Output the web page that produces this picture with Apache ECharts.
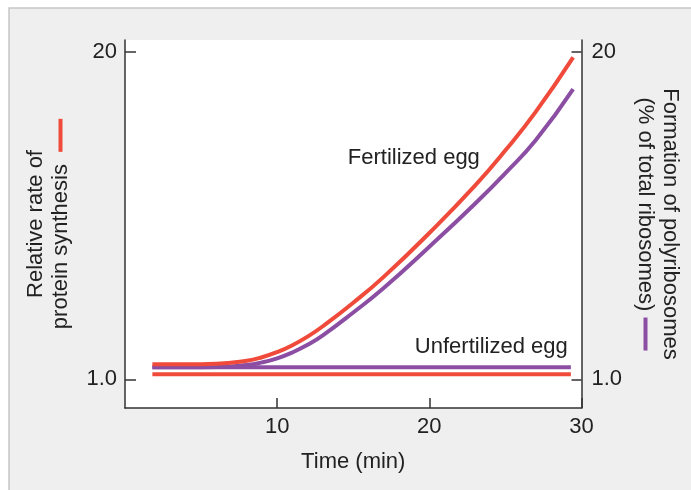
<!DOCTYPE html>
<html>
<head>
<meta charset="utf-8">
<script src="https://cdn.jsdelivr.net/npm/echarts@6/dist/echarts.min.js"></script>
<style>
  html, body { margin: 0; padding: 0; background: #fff; }
  #echarts_container { width: 691px; height: 490px; }
</style>
</head>
<body>
<div id="echarts_container"></div>
<script>
var chartDom = document.getElementById('echarts_container');
var myChart = echarts.init(chartDom);
var option;

// time points (min)
let timeCurve = [1.8, 4, 6, 8, 9, 10, 11, 12, 13, 15, 17, 20, 23, 25, 27, 29.45]
// fertilized egg: protein synthesis (red) and polyribosomes (purple)
let proteinFert = [1.87, 1.87, 1.9, 2.08, 2.28, 2.58, 2.98, 3.48, 4.08, 5.45, 6.95, 9.5, 12.25, 14.3, 16.55, 19.7]
let polyFert = [1.70, 1.70, 1.71, 1.83, 1.98, 2.22, 2.56, 3.0, 3.55, 4.88, 6.3, 8.7, 11.2, 12.98, 14.9, 17.85]
// unfertilized egg: flat lines
let timeFlat = [1.8, 29.3]
let proteinUnfert = [1.29, 1.29]
let polyUnfert = [1.70, 1.70]

let yTicks = [1, 20]
let xTicks = [10, 20, 30]

// annotation labels and where they sit (time, value)
let noteText = ['Fertilized egg', 'Unfertilized egg']
let notePos = [[18.98, 13.84], [24.07, 2.88]]

const RED = '#ef4a3a'
const PURPLE = '#8b4ea3'
const FONT = "'Liberation Sans', Arial, sans-serif"

const pairs = (xs, ys) => xs.map((x, i) => [x, ys[i]])

option = {
    animation: false,
    textStyle: { fontFamily: FONT },
    graphic: [{
        type: 'rect',
        z: -10,
        shape: { x: 9, y: 8, width: 700, height: 500 },
        style: { fill: '#efefef', stroke: '#c6c6c6', lineWidth: 1.5 }
    }],
    grid: {
        left: 125, right: 106, top: 40, bottom: 82,
        show: true, backgroundColor: '#ffffff', borderWidth: 0
    },
    xAxis: {
        type: 'value', min: 0, max: 30,
        name: 'Time (min)', nameLocation: 'middle', nameGap: 43,
        nameTextStyle: { fontSize: 22, color: '#222', fontFamily: FONT },
        axisLine: { onZero: false, lineStyle: { color: '#333', width: 1.5 } },
        axisTick: { inside: true, length: 10, customValues: xTicks, lineStyle: { color: '#333', width: 1.5 } },
        axisLabel: { customValues: xTicks, fontSize: 22, color: '#222', margin: 8, fontFamily: FONT },
        splitLine: { show: false }
    },
    yAxis: [{
        type: 'value', min: -0.668, max: 20.71, position: 'left',
        name: 'Relative rate of\nprotein synthesis  {d| }',
        nameLocation: 'middle', nameRotate: 90, nameGap: 52,
        nameTextStyle: {
            fontSize: 22, lineHeight: 25, color: '#222', fontFamily: FONT,
            rich: { d: { width: 33, height: 4, backgroundColor: RED } }
        },
        axisLine: { show: true, onZero: false, lineStyle: { color: '#333', width: 1.5 } },
        axisTick: { inside: true, length: 11, customValues: yTicks, lineStyle: { color: '#333', width: 1.5 } },
        axisLabel: {
            customValues: yTicks, fontSize: 22, color: '#222', margin: 8, fontFamily: FONT,
            formatter: v => v == 1 ? '1.0' : String(v)
        },
        splitLine: { show: false }
    }, {
        type: 'value', min: -0.668, max: 20.71, position: 'right',
        name: 'Formation of polyribosomes\n(% of total ribosomes) {d| }',
        nameLocation: 'middle', nameRotate: -90, nameGap: 50,
        nameTextStyle: {
            fontSize: 22, lineHeight: 25, color: '#222', fontFamily: FONT,
            rich: { d: { width: 33, height: 4, backgroundColor: PURPLE } }
        },
        axisLine: { show: true, onZero: false, lineStyle: { color: '#333', width: 1.5 } },
        axisTick: { inside: true, length: 10, customValues: yTicks, lineStyle: { color: '#333', width: 1.5 } },
        axisLabel: {
            customValues: yTicks, fontSize: 22, color: '#222', margin: 10, fontFamily: FONT,
            formatter: v => v == 1 ? '1.0' : String(v)
        },
        splitLine: { show: false }
    }],
    series: [
        {
            name: 'poly unfertilized', type: 'line', showSymbol: false,
            data: pairs(timeFlat, polyUnfert),
            lineStyle: { color: PURPLE, width: 4 }
        },
        {
            name: 'protein unfertilized', type: 'line', showSymbol: false,
            data: pairs(timeFlat, proteinUnfert),
            lineStyle: { color: RED, width: 4 }
        },
        {
            name: 'poly fertilized', type: 'line', showSymbol: false, smooth: 0.5,
            data: pairs(timeCurve, polyFert),
            lineStyle: { color: PURPLE, width: 4 }
        },
        {
            name: 'protein fertilized', type: 'line', showSymbol: false, smooth: 0.5,
            data: pairs(timeCurve, proteinFert),
            lineStyle: { color: RED, width: 4 },
            markPoint: {
                symbol: 'circle', symbolSize: 0, silent: true,
                label: { show: true, position: 'inside', fontSize: 22, color: '#222', fontFamily: FONT, formatter: p => p.name },
                data: noteText.map((t, i) => ({ name: t, coord: notePos[i] }))
            }
        }
    ]
};

option && myChart.setOption(option);
</script>
</body>
</html>
